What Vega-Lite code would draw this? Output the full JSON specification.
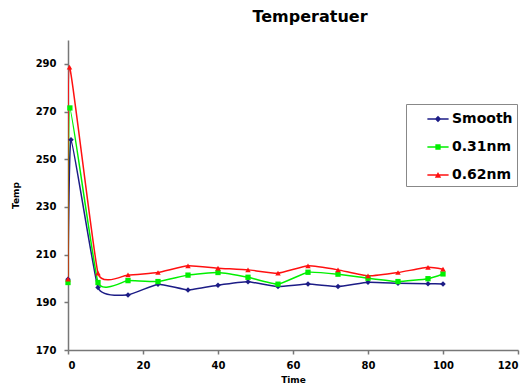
{
  "$schema": "https://vega.github.io/schema/vega-lite/v6.json",
  "autosize": "none",
  "width": 450,
  "height": 310,
  "padding": {"left": 68, "top": 40, "right": 14, "bottom": 37},
  "background": "white",
  "title": {"text": "Temperatuer", "font": "DejaVu Sans", "fontSize": 16, "fontWeight": "bold", "color": "black", "offset": 15, "dx": 17},
  "config": {"view": {"stroke": null}},
  "data": {"values": [
    {"t": 0, "v": 199.7, "s": "Smooth"}, {"t": 0.8, "v": 258.2, "s": "Smooth"}, {"t": 8, "v": 196.2, "s": "Smooth"}, {"t": 16, "v": 193.1, "s": "Smooth"}, {"t": 24, "v": 197.6, "s": "Smooth"}, {"t": 32, "v": 195.2, "s": "Smooth"}, {"t": 40, "v": 197.2, "s": "Smooth"}, {"t": 48, "v": 198.6, "s": "Smooth"}, {"t": 56, "v": 196.6, "s": "Smooth"}, {"t": 64, "v": 197.7, "s": "Smooth"}, {"t": 72, "v": 196.6, "s": "Smooth"}, {"t": 80, "v": 198.4, "s": "Smooth"}, {"t": 88, "v": 198.0, "s": "Smooth"}, {"t": 96, "v": 197.8, "s": "Smooth"}, {"t": 100, "v": 197.7, "s": "Smooth"},
    {"t": 0, "v": 198.3, "s": "0.31nm"}, {"t": 0.5, "v": 271.5, "s": "0.31nm"}, {"t": 8, "v": 198.3, "s": "0.31nm"}, {"t": 16, "v": 199.1, "s": "0.31nm"}, {"t": 24, "v": 198.7, "s": "0.31nm"}, {"t": 32, "v": 201.4, "s": "0.31nm"}, {"t": 40, "v": 202.5, "s": "0.31nm"}, {"t": 48, "v": 200.5, "s": "0.31nm"}, {"t": 56, "v": 197.6, "s": "0.31nm"}, {"t": 64, "v": 202.6, "s": "0.31nm"}, {"t": 72, "v": 201.8, "s": "0.31nm"}, {"t": 80, "v": 200.1, "s": "0.31nm"}, {"t": 88, "v": 198.7, "s": "0.31nm"}, {"t": 96, "v": 199.9, "s": "0.31nm"}, {"t": 100, "v": 201.9, "s": "0.31nm"},
    {"t": 0, "v": 199.7, "s": "0.62nm"}, {"t": 0.4, "v": 288.6, "s": "0.62nm"}, {"t": 8, "v": 202.2, "s": "0.62nm"}, {"t": 16, "v": 201.5, "s": "0.62nm"}, {"t": 24, "v": 202.5, "s": "0.62nm"}, {"t": 32, "v": 205.3, "s": "0.62nm"}, {"t": 40, "v": 204.3, "s": "0.62nm"}, {"t": 48, "v": 203.6, "s": "0.62nm"}, {"t": 56, "v": 202.2, "s": "0.62nm"}, {"t": 64, "v": 205.3, "s": "0.62nm"}, {"t": 72, "v": 203.6, "s": "0.62nm"}, {"t": 80, "v": 201.1, "s": "0.62nm"}, {"t": 88, "v": 202.5, "s": "0.62nm"}, {"t": 96, "v": 204.7, "s": "0.62nm"}, {"t": 100, "v": 203.9, "s": "0.62nm"}
  ]},
  "encoding": {
    "x": {"field": "t", "type": "quantitative",
      "scale": {"domain": [0, 120], "nice": false},
      "axis": {"title": "Time", "values": [0, 20, 40, 60, 80, 100, 120], "grid": false,
        "domainColor": "#777777", "domainWidth": 1.5, "tickColor": "#777777", "tickWidth": 1.5, "tickSize": 4,
        "labelFont": "DejaVu Sans", "labelFontWeight": "bold", "labelFontSize": 10, "labelColor": "black", "labelPadding": 6,
        "titleFont": "DejaVu Sans", "titleFontWeight": "bold", "titleFontSize": 9, "titleColor": "black", "titlePadding": 5}},
    "y": {"field": "v", "type": "quantitative",
      "scale": {"domain": [170, 300], "nice": false, "zero": false},
      "axis": {"title": "Temp", "values": [170, 190, 210, 230, 250, 270, 290], "grid": false,
        "domainColor": "#777777", "domainWidth": 1.5, "tickColor": "#777777", "tickWidth": 1.5, "tickSize": 4,
        "labelFont": "DejaVu Sans", "labelFontWeight": "bold", "labelFontSize": 10, "labelColor": "black", "labelPadding": 8,
        "titleFont": "DejaVu Sans", "titleFontWeight": "bold", "titleFontSize": 9, "titleColor": "black", "titlePadding": 15}}
  },
  "layer": [
    {"transform": [{"filter": "datum.s === 'Smooth'"}],
      "mark": {"type": "line", "interpolate": "cardinal", "tension": 0.6, "strokeWidth": 1.5, "clip": true, "color": "#1c1c86"},
      "encoding": {"order": {"field": "t", "type": "quantitative"}}},
    {"transform": [{"filter": "datum.s === '0.31nm'"}],
      "mark": {"type": "line", "interpolate": "cardinal", "tension": 0.6, "strokeWidth": 1.5, "clip": true, "color": "#00f000"},
      "encoding": {"order": {"field": "t", "type": "quantitative"}}},
    {"transform": [{"filter": "datum.s === '0.62nm'"}],
      "mark": {"type": "line", "interpolate": "cardinal", "tension": 0.6, "strokeWidth": 1.5, "clip": true, "color": "#ff1010"},
      "encoding": {"order": {"field": "t", "type": "quantitative"}}},
    {"transform": [{"filter": "datum.s === 'Smooth'"}],
      "mark": {"type": "point", "filled": true, "size": 30, "opacity": 1, "shape": "diamond", "color": "#1c1c86"}},
    {"transform": [{"filter": "datum.s === '0.31nm'"}],
      "mark": {"type": "point", "filled": true, "size": 28, "opacity": 1, "shape": "square", "color": "#00f000"}},
    {"transform": [{"filter": "datum.s === '0.62nm'"}],
      "mark": {"type": "point", "filled": true, "size": 30, "opacity": 1, "shape": "triangle-up", "color": "#ff1010"}},
    {"mark": {"type": "point", "filled": true, "size": 0, "opacity": 1},
      "encoding": {
        "color": {"field": "s", "type": "nominal",
          "scale": {"domain": ["Smooth", "0.31nm", "0.62nm"], "range": ["#1c1c86", "#00f000", "#ff1010"]},
          "legend": {"title": null, "orient": "none", "legendX": 338, "legendY": 64,
            "strokeColor": "#888888", "fillColor": "white", "padding": 4,
            "symbolOffset": 17, "symbolSize": 450, "symbolOpacity": 1, "symbolStrokeWidth": 0, "rowPadding": 10, "labelOffset": 3,
            "labelFont": "DejaVu Sans", "labelFontWeight": "bold", "labelFontSize": 14, "labelColor": "black",
            "labelExpr": "datum.label + '\u00a0\u00a0'"}},
        "shape": {"field": "s", "type": "nominal",
          "scale": {"domain": ["Smooth", "0.31nm", "0.62nm"],
            "range": ["M-1,-0.07H1V0.07H-1Z M-0.3,0L0,-0.3L0.3,0L0,0.3Z", "M-1,-0.07H1V0.07H-1Z M-0.25,-0.25H0.25V0.25H-0.25Z", "M-1,-0.07H1V0.07H-1Z M-0.3,0.25L0,-0.28L0.3,0.25Z"]},
          "legend": {"title": null, "orient": "none", "legendX": 338, "legendY": 64,
            "strokeColor": "#888888", "fillColor": "white", "padding": 4,
            "symbolOffset": 17, "symbolSize": 450, "symbolOpacity": 1, "symbolStrokeWidth": 0, "rowPadding": 10, "labelOffset": 3,
            "labelFont": "DejaVu Sans", "labelFontWeight": "bold", "labelFontSize": 14, "labelColor": "black",
            "labelExpr": "datum.label + '\u00a0\u00a0'"}}}}
  ]
}
